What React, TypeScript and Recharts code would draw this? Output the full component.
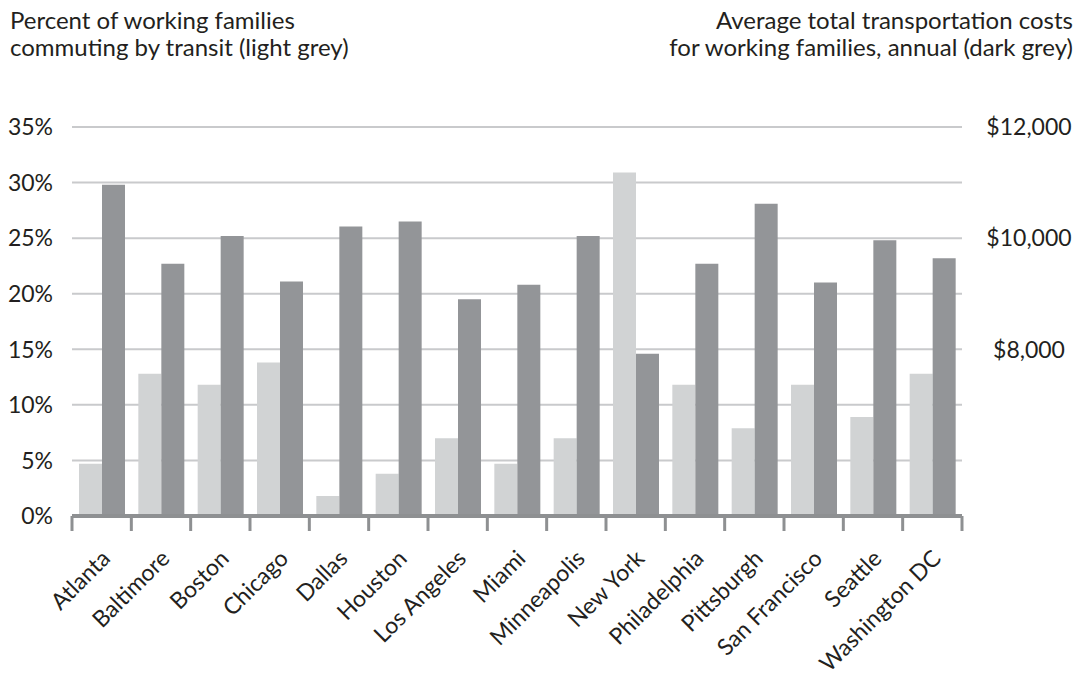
import { BarChart, Bar, XAxis, YAxis, CartesianGrid } from "recharts"

// cities on the x axis
const cities = [
  "Atlanta", "Baltimore", "Boston", "Chicago", "Dallas", "Houston", "Los Angeles", "Miami",
  "Minneapolis", "New York", "Philadelphia", "Pittsburgh", "San Francisco", "Seattle", "Washington DC",
]
// percent of working families commuting by transit (light grey)
const transitShare = [4.7, 12.8, 11.8, 13.8, 1.8, 3.8, 7.0, 4.7, 7.0, 30.9, 11.8, 7.9, 11.8, 8.9, 12.8]
// average total transportation costs, annual $ (dark grey)
const transportCost = [10960, 9540, 10040, 9220, 10210, 10300, 8900, 9160, 10040, 7920, 9540, 10620, 9200, 9960, 9640]

const percentTicks = [0, 5, 10, 15, 20, 25, 30, 35]
const costTicks = [8000, 10000, 12000]

const data = cities.map((city, i) => ({ city, transit: transitShare[i], cost: transportCost[i] }))

const FONT = "Lato, 'Open Sans', sans-serif"
const TEXT = "#231f20"
const AXIS = "#8e9092"
const W = 1079
const H = 676
const LEFT_W = 72
const RIGHT_W = 117
const BAND = (W - LEFT_W - RIGHT_W) / cities.length

const CityTick = ({ x, y, payload, index }: any) => {
  const axisY = y - 8
  return (
    <g>
      <line x1={x - BAND / 2} x2={x - BAND / 2} y1={axisY} y2={axisY + 15} stroke={AXIS} strokeWidth={3} />
      {index === cities.length - 1 && (
        <line x1={x + BAND / 2} x2={x + BAND / 2} y1={axisY} y2={axisY + 15} stroke={AXIS} strokeWidth={3} />
      )}
      <text
        transform={`translate(${x + 10},${axisY + 44}) rotate(-45)`}
        textAnchor="end"
        fill={TEXT}
        fontSize={23}
        fontFamily={FONT}
      >
        {payload.value}
      </text>
    </g>
  )
}

const PercentTick = ({ x, y, payload }: any) => (
  <text x={x} y={y} dy="0.36em" textAnchor="end" fill={TEXT} fontSize={23} fontFamily={FONT}>
    {payload.value}%
  </text>
)

const CostTick = ({ x, y, payload }: any) => (
  <text x={x + 59} y={y} dy="0.36em" textAnchor="middle" fill={TEXT} fontSize={23} fontFamily={FONT}>
    ${payload.value.toLocaleString("en-US")}
  </text>
)

export default function App() {
  return (
    <div style={{ position: "relative", width: W, height: H, background: "#fff", fontFamily: FONT, color: TEXT }}>
      <style>{`body{margin:0}`}</style>
      <div style={{ position: "absolute", left: 10, top: 6, fontSize: 24, lineHeight: "27px" }}>
        Percent of working families
        <br />
        commuting by transit (light grey)
      </div>
      <div style={{ position: "absolute", right: 6, top: 6, fontSize: 24, lineHeight: "27px", textAlign: "right" }}>
        Average total transportation costs
        <br />
        for working families, annual (dark grey)
      </div>
      <BarChart
        width={W}
        height={H}
        data={data}
        margin={{ top: 127, right: 0, left: 0, bottom: 0 }}
        barGap={0}
        style={{ position: "absolute", left: 0, top: 0 }}
      >
        <CartesianGrid yAxisId="pct" vertical={false} stroke="#c9cacc" strokeWidth={2} />
        <XAxis
          dataKey="city"
          height={H - 127 - 389}
          interval={0}
          tickLine={false}
          axisLine={{ stroke: AXIS, strokeWidth: 4 }}
          tick={<CityTick />}
        />
        <YAxis
          yAxisId="pct"
          width={LEFT_W}
          domain={[0, 35]}
          ticks={percentTicks}
          interval={0}
          tickLine={false}
          axisLine={false}
          tickMargin={13}
          tick={<PercentTick />}
        />
        <YAxis
          yAxisId="cost"
          orientation="right"
          width={RIGHT_W}
          domain={[5000, 12000]}
          ticks={costTicks}
          interval={0}
          tickLine={false}
          axisLine={false}
          tick={<CostTick />}
        />
        <Bar yAxisId="pct" dataKey="transit" fill="#d1d3d4" barSize={23} isAnimationActive={false} />
        <Bar yAxisId="cost" dataKey="cost" fill="#939598" barSize={23} isAnimationActive={false} />
      </BarChart>
    </div>
  )
}
